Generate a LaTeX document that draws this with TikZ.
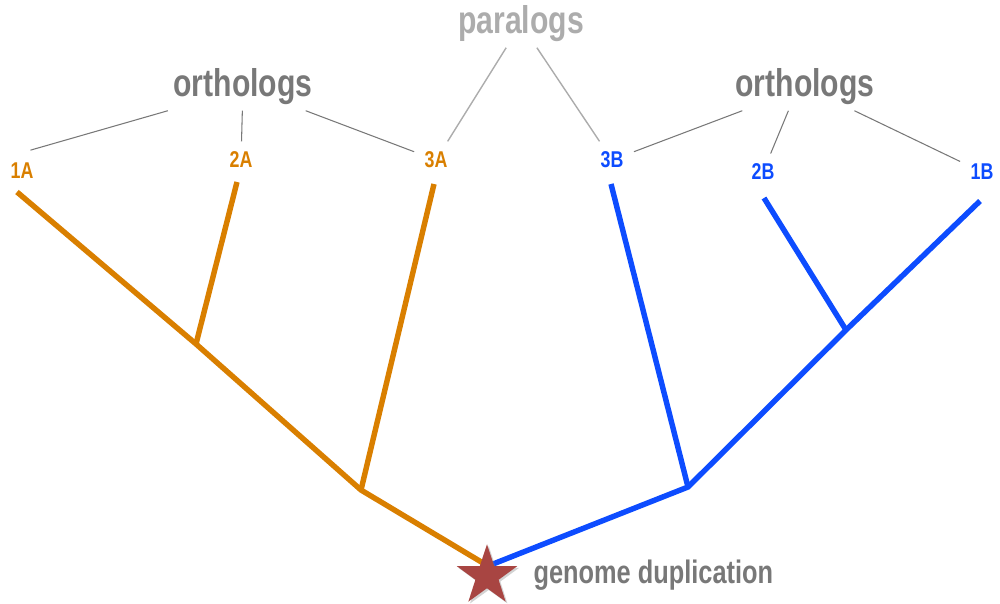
\documentclass[tikz,border=0pt]{standalone}
\usepackage{fontspec}
\newfontfamily\condfont{Liberation Sans}[FakeStretch=0.78]
\usetikzlibrary{shapes.geometric,shadows}
\definecolor{geneA}{RGB}{217,127,0}
\definecolor{geneB}{RGB}{13,76,255}
\definecolor{dupred}{RGB}{168,69,66}
\definecolor{textgray}{RGB}{120,120,120}
\definecolor{paragray}{RGB}{172,172,172}

\begin{document}
\begin{tikzpicture}[x=0.02cm, y=-0.02cm,
  branchA/.style={geneA, line width=3.1pt},
  branchB/.style={geneB, line width=3.1pt},
  leaf/.style={font=\condfont\bfseries\fontsize{13}{15}\selectfont, inner sep=1pt, outer sep=5pt},
  group/.style={font=\condfont\bfseries\fontsize{22}{26}\selectfont, inner sep=3pt},
  ortholine/.style={textgray, line width=0.6pt},
  paraline/.style={paragray, line width=0.8pt}]
  \useasboundingbox (0,0) rectangle (1000,604);

  % tree points
  \coordinate (t1A) at (17,192);
  \coordinate (t2A) at (237,182);
  \coordinate (t3A) at (434,184);
  \coordinate (t3B) at (611,184);
  \coordinate (t2B) at (764,198);
  \coordinate (t1B) at (980,201);
  \coordinate (nA1) at (196,344);
  \coordinate (nA2) at (361,490);
  \coordinate (nB1) at (846,330);
  \coordinate (nB2) at (688,487);
  \coordinate (root) at (488,566);

  \draw[branchA] (t1A) -- (nA1) -- (nA2) -- (root);
  \draw[branchA] (t2A) -- (nA1);
  \draw[branchA] (t3A) -- (nA2);
  \draw[branchB] (root) -- (nB2) -- (nB1) -- (t1B);
  \draw[branchB] (t2B) -- (nB1);
  \draw[branchB] (t3B) -- (nB2);

  \node[star, star points=5, star point ratio=2.6, minimum size=1.27cm, inner sep=0pt,
    fill=dupred, drop shadow={opacity=0.35, shadow xshift=1pt, shadow yshift=-1pt}] (dup) at (487,576) {};
  \node[group, text=textgray, font=\condfont\bfseries\fontsize{18.5}{22}\selectfont, anchor=west] (duplabel) at (528,575) {genome duplication};

  % leaf labels
  \node[leaf, text=geneA] (l1A) at (22,171) {1A};
  \node[leaf, text=geneA] (l2A) at (241,160) {2A};
  \node[leaf, text=geneA] (l3A) at (436,160) {3A};
  \node[leaf, text=geneB] (l3B) at (612,160) {3B};
  \node[leaf, text=geneB] (l2B) at (763,172) {2B};
  \node[leaf, text=geneB] (l1B) at (982,172) {1B};

  % group labels
  \node[group, text=paragray] (para) at (521,24) {paralogs};
  \node[group, text=textgray] (orthoA) at (243,87) {orthologs};
  \node[group, text=textgray] (orthoB) at (805,87) {orthologs};

  \draw[ortholine, shorten >=5pt] (orthoA.south west) -- (l1A.north);
  \draw[ortholine] (orthoA) -- (l2A);
  \draw[ortholine] (orthoA) -- (l3A);
  \draw[ortholine] (orthoB) -- (l3B);
  \draw[ortholine] (orthoB.235) -- (l2B);
  \draw[ortholine] (orthoB) -- (l1B);
  \draw[paraline] (para) -- (l3A);
  \draw[paraline] (para) -- (l3B);
\end{tikzpicture}
\end{document}
